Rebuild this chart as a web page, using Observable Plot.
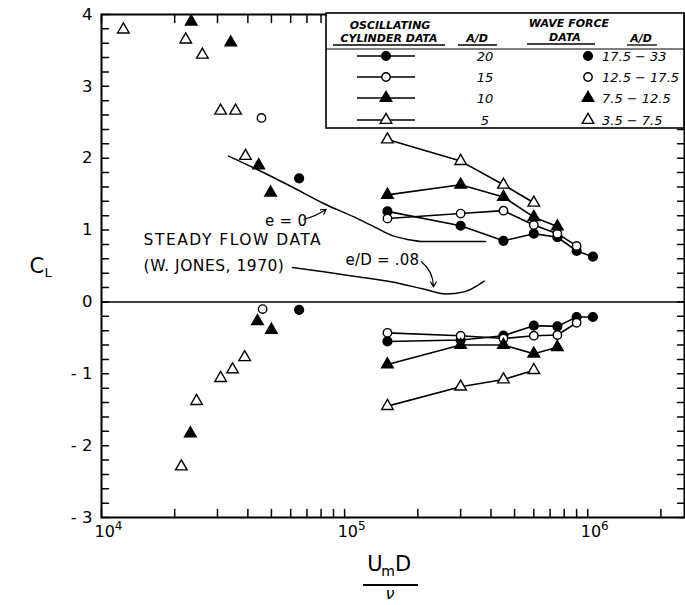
<!DOCTYPE html>
<html><head><meta charset="utf-8">
<script src="https://cdn.jsdelivr.net/npm/d3@7"></script>
<script src="https://cdn.jsdelivr.net/npm/@observablehq/plot@0.6"></script>
<style>
html,body{margin:0;padding:0;background:#fff;}
#chart{width:685px;height:605px;}
</style></head><body><div id="chart"></div>
<script>
// ---- Oscillating cylinder data (lines with markers) ----
const oscX = [1.5e5, 3.0e5, 4.5e5, 6.0e5, 7.5e5, 9.0e5, 1.05e6];
const oscAD = ["20", "15", "10", "5"];
const oscPos20 = [1.26, 1.06, 0.85, 0.95, 0.90, 0.71, 0.63];
const oscNeg20 = [-0.55, -0.53, -0.47, -0.33, -0.34, -0.21, -0.21];
const oscPos15 = [1.16, 1.23, 1.27, 1.07, 0.95, 0.78];
const oscNeg15 = [-0.43, -0.47, -0.51, -0.47, -0.46, -0.29];
const oscPos10 = [1.49, 1.63, 1.46, 1.18, 1.05];
const oscNeg10 = [-0.87, -0.60, -0.60, -0.72, -0.63];
const oscPos5 = [2.26, 1.96, 1.63, 1.38];
const oscNeg5 = [-1.45, -1.18, -1.08, -0.95];

// ---- Wave force data (scatter) ----
const waveRanges = ["17.5 \u2212 33", "12.5 \u2212 17.5", "7.5 \u2212 12.5", "3.5 \u2212 7.5"];
const wave1X = [6.5e4, 6.5e4];
const wave1Y = [1.72, -0.11];
const wave2X = [4.55e4, 4.6e4];
const wave2Y = [2.56, -0.10];
const wave3X = [2.34e4, 3.4e4, 4.43e4, 4.96e4, 4.38e4, 5.0e4, 2.32e4];
const wave3Y = [3.90, 3.61, 1.90, 1.52, -0.27, -0.39, -1.83];
const wave4X = [1.23e4, 2.22e4, 2.6e4, 3.09e4, 3.56e4, 3.91e4, 3.88e4, 3.46e4, 3.09e4, 2.46e4, 2.13e4];
const wave4Y = [3.79, 3.65, 3.44, 2.66, 2.66, 2.03, -0.77, -0.94, -1.06, -1.38, -2.29];

// ---- Steady flow data (W. Jones, 1970) ----
const steadyE0X = [3.33e4, 4.39e4, 6.0e4, 8.2e4, 1.13e5, 1.37e5, 1.55e5, 1.82e5, 2.11e5, 3.8e5];
const steadyE0Y = [2.03, 1.84, 1.61, 1.37, 1.16, 1.02, 0.93, 0.87, 0.84, 0.84];
const steadyE08X = [6.1e4, 8.2e4, 1.13e5, 1.55e5, 2.11e5, 2.6e5, 3.1e5, 3.75e5];
const steadyE08Y = [0.48, 0.42, 0.35, 0.28, 0.18, 0.11, 0.14, 0.29];

// ---- Tick labels ----
const xLabelTicks = [1e4, 1e5, 1e6];
const xLabelBase = ["10", "10", "10"];
const xLabelExp = ["4", "5", "6"];
const yLabelTicks = [-3, -2, -1, 0, 1, 2, 3, 4];

// ---- Annotations ----
const noteText = ["e = 0", "STEADY FLOW DATA", "(W. JONES, 1970)", "e/D = .08"];
const noteX = [5.75e4, 1.49e4, 1.49e4, 1.43e5];
const noteY = [1.12, 0.86, 0.50, 0.58];
const noteAnchor = ["middle", "start", "start", "middle"];
const noteSpacing = [0.3, 1.5, 0.5, 0.2];

const xTickVals = [];
for (const p of [1e4, 1e5, 1e6]) for (let k = 1; k <= 9; k++) if (k * p <= 2.5e6) xTickVals.push(k * p);
const yTickVals = d3.range(-15, 21).map(i => i / 5);

const styles = [
  {symbol: "circle", fill: "black", r: 4.4},
  {symbol: "circle", fill: "white", r: 4.2},
  {symbol: "triangle", fill: "black", r: 4.3},
  {symbol: "triangle", fill: "white", r: 4.3}
];
const oscPos = [oscPos20, oscPos15, oscPos10, oscPos5];
const oscNeg = [oscNeg20, oscNeg15, oscNeg10, oscNeg5];
const waveX = [wave1X, wave2X, wave3X, wave4X];
const waveY = [wave1Y, wave2Y, wave3Y, wave4Y];

const tickShape = {draw(ctx, l) { ctx.moveTo(0, 0); ctx.lineTo(0, -l); }};

const marks = [];
marks.push(Plot.ruleY([0], {stroke: "black", strokeWidth: 1.6}));
const e0 = steadyE0X.map((x, i) => ({x, y: steadyE0Y[i]}));
const e08 = steadyE08X.map((x, i) => ({x, y: steadyE08Y[i]}));
marks.push(Plot.line(e0, {x: "x", y: "y", curve: "monotone-x", stroke: "black", strokeWidth: 1.5}));
marks.push(Plot.line(e08, {x: "x", y: "y", curve: "monotone-x", stroke: "black", strokeWidth: 1.5}));
for (let s = 0; s < 4; s++) {
  for (const arr of [oscPos[s], oscNeg[s]]) {
    const rows = arr.map((y, i) => ({x: oscX[i], y}));
    marks.push(Plot.line(rows, {x: "x", y: "y", stroke: "black", strokeWidth: 1.6}));
  }
}
for (let s = 0; s < 4; s++) {
  for (const arr of [oscPos[s], oscNeg[s]]) {
    const rows = arr.map((y, i) => ({x: oscX[i], y}));
    marks.push(Plot.dot(rows, {x: "x", y: "y", symbol: styles[s].symbol, r: styles[s].r, fill: styles[s].fill, stroke: "black", strokeWidth: 1.4}));
  }
  const wrows = waveX[s].map((x, i) => ({x, y: waveY[s][i]}));
  marks.push(Plot.dot(wrows, {x: "x", y: "y", symbol: styles[s].symbol, r: styles[s].r, fill: styles[s].fill, stroke: "black", strokeWidth: 1.4}));
}
// annotations
const notes = noteText.map((t, i) => ({t, x: noteX[i], y: noteY[i], a: noteAnchor[i]}));
marks.push(Plot.text(notes.filter(d => d.a === "start"), {x: "x", y: "y", text: "t", textAnchor: "start", fontSize: 15.5, fill: "black"}));
marks.push(Plot.text(notes.filter(d => d.a === "middle"), {x: "x", y: "y", text: "t", textAnchor: "middle", fontSize: 15, fill: "black"}));
marks.push(Plot.arrow([{x1: 6.8e4, y1: 1.15, x2: 8.4e4, y2: 1.29}], {x1: "x1", y1: "y1", x2: "x2", y2: "y2", bend: -10, headLength: 7, strokeWidth: 1.2, stroke: "black"}));
marks.push(Plot.arrow([{x1: 2.07e5, y1: 0.56, x2: 2.32e5, y2: 0.21}], {x1: "x1", y1: "y1", x2: "x2", y2: "y2", bend: 25, headLength: 7, strokeWidth: 1.2, stroke: "black"}));
// ticks (inward)
marks.push(Plot.vector(xTickVals, {x: d => d, frameAnchor: "bottom", length: 8, rotate: 0, anchor: "start", shape: tickShape, strokeWidth: 1.5, stroke: "black"}));
marks.push(Plot.vector(xTickVals, {x: d => d, frameAnchor: "top", length: 8, rotate: 180, anchor: "start", shape: tickShape, strokeWidth: 1.5, stroke: "black"}));
marks.push(Plot.vector(yTickVals, {y: d => d, frameAnchor: "left", length: 7, rotate: 90, anchor: "start", shape: tickShape, strokeWidth: 1.5, stroke: "black"}));
marks.push(Plot.vector(yTickVals, {y: d => d, frameAnchor: "right", length: 7, rotate: -90, anchor: "start", shape: tickShape, strokeWidth: 1.5, stroke: "black"}));
marks.push(Plot.frame({stroke: "black", strokeWidth: 2}));
// axes labels
marks.push(Plot.axisY({anchor: "left", ticks: yLabelTicks, tickSize: 0, tickPadding: 9, fontSize: 16.5, label: null,
  tickFormat: d => d < 0 ? "- " + (-d) : String(d)}));
marks.push(Plot.axisX({anchor: "bottom", ticks: xLabelTicks, tickSize: 0, tickPadding: 8, fontSize: 16, label: null, dx: 7,
  tickFormat: d => xLabelBase[xLabelTicks.indexOf(d)] + "^" + xLabelExp[xLabelTicks.indexOf(d)]}));
// C_L
marks.push(Plot.text(["C"], {text: d => d, frameAnchor: "left", dx: -72, dy: 0, fontSize: 21, fill: "black"}));
marks.push(Plot.text(["L"], {text: d => d, frameAnchor: "left", dx: -57, dy: 7, fontSize: 13, fill: "black"}));
// x label fraction
marks.push(Plot.text(["U"], {text: d => d, frameAnchor: "bottom", dx: -18, dy: 53, fontSize: 21, fill: "black"}));
marks.push(Plot.text(["m"], {text: d => d, frameAnchor: "bottom", dx: -5, dy: 58, fontSize: 14, fill: "black"}));
marks.push(Plot.text(["D"], {text: d => d, frameAnchor: "bottom", dx: 10, dy: 53, fontSize: 21, fill: "black"}));
marks.push(Plot.text(["\u03bd"], {text: d => d, frameAnchor: "bottom", dx: -3, dy: 81, fontSize: 16, fontStyle: "italic", fill: "black"}));

const plot = Plot.plot({
  width: 685, height: 605,
  marginLeft: 101, marginRight: 1, marginTop: 14, marginBottom: 88,
  style: {fontFamily: "DejaVu Sans", background: "white", color: "black", overflow: "visible"},
  x: {type: "log", domain: [1e4, 2.5e6]},
  y: {domain: [-3, 4]},
  marks
});
document.getElementById("chart").appendChild(plot);

const svg = d3.select(plot);
svg.selectAll("text").each(function() {
  const el = d3.select(this);
  const t = el.text();
  const i = noteText.indexOf(t);
  if (i >= 0) el.attr("letter-spacing", noteSpacing[i] + "px");
  const parts = t.split("^");
  if (parts.length === 2) {
    el.text(parts[0]);
    el.append("tspan").attr("font-size", 12).attr("dy", "-0.55em").text(parts[1]);
  }
});
// fraction bar
svg.append("line").attr("x1", 363).attr("x2", 418).attr("y1", 585).attr("y2", 585).attr("stroke", "black").attr("stroke-width", 2);

// ---- Legend ----
const lg = svg.append("g").attr("font-family", "DejaVu Sans").attr("fill", "black");
lg.append("rect").attr("x", 326).attr("y", 13).attr("width", 358).attr("height", 115)
  .attr("fill", "white").attr("stroke", "black").attr("stroke-width", 1.6);
const hdr = [
  {t: "OSCILLATING", x: 390, y: 29},
  {t: "CYLINDER DATA", x: 389, y: 42, u: [333, 445]},
  {t: "A/D", x: 477, y: 42, u: [458, 497]},
  {t: "WAVE FORCE", x: 569, y: 27},
  {t: "DATA", x: 565, y: 41, u: [527, 595]},
  {t: "A/D", x: 641, y: 42, u: [627, 657]}
];
for (const h of hdr) {
  lg.append("text").attr("x", h.x).attr("y", h.y).attr("text-anchor", "middle")
    .attr("font-size", 11).attr("font-style", "italic").attr("font-weight", "bold").text(h.t);
  if (h.u) lg.append("line").attr("x1", h.u[0]).attr("x2", h.u[1]).attr("y1", h.y + 3).attr("y2", h.y + 3)
    .attr("stroke", "black").attr("stroke-width", 1.3);
}
lg.append("line").attr("x1", 326).attr("x2", 684).attr("y1", 49).attr("y2", 49).attr("stroke", "black").attr("stroke-width", 1);
const rowY = [56, 77, 98, 120];
for (let s = 0; s < 4; s++) {
  const y = rowY[s];
  lg.append("line").attr("x1", 357).attr("x2", 415).attr("y1", y).attr("y2", y).attr("stroke", "black").attr("stroke-width", 1.6);
  const sym = styles[s].symbol === "circle" ? d3.symbolCircle : d3.symbolTriangle;
  const path = d3.symbol(sym, Math.PI * styles[s].r * styles[s].r)();
  lg.append("path").attr("d", path).attr("transform", `translate(386,${y})`)
    .attr("fill", styles[s].fill).attr("stroke", "black").attr("stroke-width", 1.4);
  lg.append("text").attr("x", 485).attr("y", y).attr("dy", "0.35em").attr("text-anchor", "middle")
    .attr("font-size", 13).attr("font-style", "italic").text(oscAD[s]);
  lg.append("path").attr("d", path).attr("transform", `translate(588,${y})`)
    .attr("fill", styles[s].fill).attr("stroke", "black").attr("stroke-width", 1.4);
  lg.append("text").attr("x", 602).attr("y", y).attr("dy", "0.35em").attr("text-anchor", "start")
    .attr("font-size", 13).attr("font-style", "italic").text(waveRanges[s]);
}
</script></body></html>
